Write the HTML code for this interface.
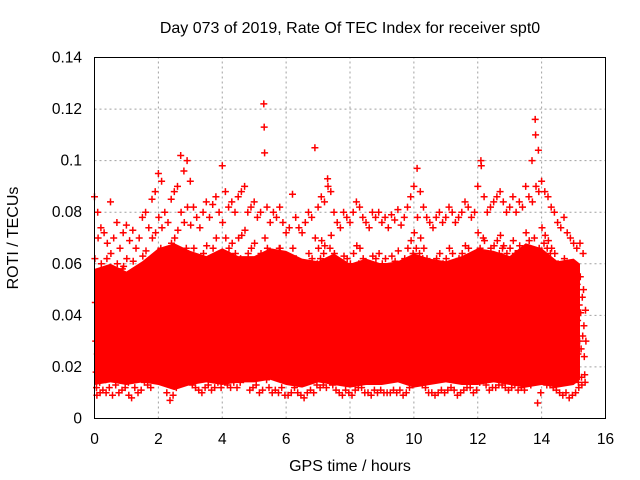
<!DOCTYPE html>
<html><head><meta charset="utf-8">
<style>
body{margin:0;background:#fff;}
svg{display:block;font-family:"Liberation Sans",sans-serif;}
</style></head>
<body>
<svg id="chart" width="640" height="480">
<text x="350" y="33" font-size="16" text-anchor="middle" fill="#000">Day 073 of 2019, Rate Of TEC Index for receiver spt0</text>
<text x="350" y="471" font-size="16" text-anchor="middle" fill="#000">GPS time / hours</text>
<text transform="translate(18,238) rotate(-90)" font-size="16" text-anchor="middle" fill="#000">ROTI / TECUs</text>
<g id="grid"></g>
<g id="ticks"></g>
<g id="points"></g>
<rect x="94.5" y="57.5" width="511" height="361" fill="none" stroke="#000" stroke-width="1"/>
</svg>
<script>
const xTicks=[0,2,4,6,8,10,12,14,16];
const yTicks=[0,0.02,0.04,0.06,0.08,0.1,0.12,0.14];
const yTickLabels=["0","0.02","0.04","0.06","0.08","0.1","0.12","0.14"];
const binStart=0, binStep=0.1;
// dense-cloud envelope (thousandths), every 0.5 h
const bandTimes=[0,0.5,1,1.5,2,2.5,3,3.5,4,4.5,5,5.5,6,6.5,7,7.5,8,8.5,9,9.5,10,10.5,11,11.5,12,12.5,13,13.5,14,14.5,15,15.2];
const bandLow=[13,14,13,14,13,11,13,14,13,14,14,15,13,12,14,13,12,13,13,14,12,13,14,13,13,14,13,12,13,12,13,15];
const bandHigh=[58,60,57,61,66,68,65,63,66,63,63,66,65,62,61,64,60,62,60,61,64,62,61,63,66,65,63,68,66,61,62,60];
// ROTI values (thousandths of TECU/min) per 0.1 h bin
const rotiBins=[
[86,62,45,30,18,12,9,25],[80,70,52,38,22,14,10,33],[74,60,48,28,20,11,41,16],[72,55,40,25,15,10,35,62],
[68,58,43,31,19,12,27,50],[84,64,47,29,17,9,36,22],[70,57,44,30,21,13,52,26],[76,60,39,24,16,10,33,48],
[66,53,42,28,18,11,58,24],[72,59,45,32,20,12,38,15],[75,62,48,34,22,14,9,55],[69,54,41,27,16,8,44,30],
[73,61,46,31,19,12,36,52],[66,50,38,25,17,10,43,28],[70,58,44,29,20,11,55,33],[78,63,49,35,23,14,40,18],
[80,65,50,36,22,13,46,28],[74,59,45,31,19,12,56,37],[85,70,54,38,24,15,48,30],[88,72,56,40,26,16,62,34],
[95,78,60,44,28,17,66,38],[92,74,58,42,27,15,50,33],[80,64,48,34,20,10,42,58],[76,60,45,30,18,7,38,52],
[85,68,52,36,22,9,60,44],[88,70,55,40,25,12,48,30],[90,73,57,41,26,14,62,35],[102,80,62,45,28,16,55,38],
[96,76,59,42,27,15,66,34],[100,82,64,46,30,18,58,40],[92,75,57,40,25,13,50,32],[82,66,50,35,21,12,45,60],
[78,62,48,33,20,11,55,40],[74,58,44,30,18,10,38,52],[80,64,49,34,21,12,58,27],[84,67,52,36,22,13,44,62],
[78,62,47,32,19,11,55,38],[83,66,51,35,22,12,60,42],[86,70,54,38,24,14,48,30],[80,64,48,33,20,12,58,42],
[98,76,58,42,26,15,50,34],[88,70,54,38,24,13,62,44],[82,66,50,35,22,12,56,40],[84,68,52,36,23,14,46,60],
[80,64,49,34,21,12,58,38],[86,70,54,38,24,14,62,44],[88,71,55,39,25,15,50,33],[90,73,56,40,26,16,60,42],
[80,64,48,33,20,11,55,38],[82,66,50,35,22,12,58,44],[84,68,52,36,23,13,60,40],[78,62,47,32,20,10,52,36],
[80,64,49,34,21,11,56,42],[122,113,103,70,45,25,58,15],[82,66,50,35,22,12,60,40],[76,60,46,31,19,10,54,36],
[80,64,48,33,20,11,56,40],[78,62,47,32,19,10,52,66],[82,66,50,35,22,12,58,42],[76,60,45,30,18,9,54,38],
[72,58,44,29,17,9,50,34],[74,59,45,30,18,10,52,36],[87,66,50,34,21,12,58,40],[78,62,47,32,19,10,55,38],
[74,58,44,29,17,9,52,36],[72,57,43,28,16,8,50,34],[76,60,46,31,18,10,54,38],[80,64,48,33,20,11,58,42],
[78,62,47,32,19,10,56,40],[105,70,54,37,23,13,60,44],[82,66,50,35,22,12,62,46],[86,69,53,37,23,13,64,48],
[84,67,51,36,22,12,60,44],[93,90,56,40,25,14,66,48],[88,71,55,39,24,13,62,46],[80,64,48,33,20,11,58,42],
[76,60,46,31,19,10,54,38],[74,58,44,29,17,9,52,36],[80,63,48,33,20,11,56,40],[78,62,47,32,19,10,55,38],
[76,60,45,30,18,9,53,37],[80,64,49,34,21,11,58,42],[84,67,51,35,22,12,60,44],[82,66,50,35,22,12,58,42],
[78,62,47,32,19,10,55,39],[76,60,46,31,18,10,53,37],[74,58,44,29,17,9,51,35],[80,63,48,33,20,11,57,41],
[78,62,47,32,19,10,55,39],[80,64,48,33,20,11,57,41],[76,60,46,31,19,10,54,38],[78,62,47,32,19,10,56,40],
[74,59,45,30,18,10,52,36],[79,63,48,33,20,11,57,41],[77,61,46,31,19,10,55,39],[81,65,49,34,21,11,59,43],
[75,60,45,30,18,9,53,37],[78,62,47,32,19,10,56,40],
[82,66,50,35,22,12,60,44],[86,69,53,37,23,13,64,48],[90,72,55,39,25,14,66,50],[97,78,58,42,27,15,64,46],
[88,70,54,38,24,13,62,46],[82,66,50,35,22,12,60,44],[78,62,47,32,19,10,56,40],[76,60,46,31,18,10,54,38],
[74,58,44,29,17,9,52,36],[78,62,47,32,19,10,56,40],[80,64,48,33,20,11,58,42],[76,60,46,31,19,10,54,38],
[78,62,47,32,20,11,56,40],[82,66,50,35,22,12,60,44],[80,64,48,33,20,11,58,42],[76,60,45,30,18,9,54,38],
[78,62,47,32,19,10,56,40],[80,64,49,34,21,11,58,42],[84,67,51,36,22,12,62,46],[82,66,50,35,22,12,60,44],
[78,62,47,32,19,10,56,40],[80,64,48,33,20,11,58,42],[90,72,55,39,25,14,66,48],[100,98,60,42,27,15,70,50],
[86,69,53,37,23,13,64,46],[80,64,48,33,20,11,58,42],[82,66,50,35,22,12,60,44],[84,67,51,36,22,12,62,46],
[86,69,53,37,23,13,64,48],[88,71,55,39,24,13,66,50],[84,67,51,36,22,12,62,46],[80,64,48,33,20,11,58,42],
[82,66,50,35,22,12,60,44],[86,69,53,37,23,13,64,48],[80,64,48,33,20,11,58,42],[84,67,51,36,22,12,62,46],
[82,65,50,35,21,11,60,44],[90,72,55,39,25,14,66,48],[86,69,53,37,23,13,64,46],[100,84,62,44,28,16,70,50],
[116,110,90,60,38,20,6,50],[104,88,66,46,30,18,10,56],[92,74,57,40,26,15,68,50],[88,71,55,39,24,13,66,48],
[86,69,53,37,23,13,64,46],[82,66,50,35,22,12,60,44],[80,64,48,33,20,11,58,42],[76,60,46,31,19,10,54,38],
[74,58,44,29,17,9,52,36],[78,62,47,32,19,10,56,40],[72,57,43,28,16,8,50,34],[70,56,42,27,16,9,48,33],
[68,54,40,26,15,10,46,32],[66,52,38,25,14,12,44,30],[68,55,41,27,16,13,47,32],[64,50,36,24,17,14,42,30]
];
const X0=94.5,X1=605.5,Y0=418.5,Y1=57.5;
const xs=v=>X0+(v-0)/(16-0)*(X1-X0);
const ys=v=>Y0-(v-0)/(0.14-0)*(Y0-Y1);
const NS="http://www.w3.org/2000/svg";
const grid=document.getElementById('grid'),ticks=document.getElementById('ticks'),pts=document.getElementById('points');
function mk(tag,attrs,parent){const e=document.createElementNS(NS,tag);for(const k in attrs)e.setAttribute(k,attrs[k]);parent.appendChild(e);return e;}
xTicks.forEach((t,i)=>{
  const x=xs(t);
  if(i>0&&i<xTicks.length-1){const g=mk('line',{x1:x,x2:x,y1:Y0,y2:Y1,stroke:'#a0a0a0','stroke-dasharray':'2,3'},grid);
  
  }
  const l=mk('text',{x:x,y:444,'font-size':15.5,'text-anchor':'middle'},ticks);l.textContent=String(t);
  
  
});
yTicks.forEach((t,i)=>{
  const y=ys(t);
  if(i>0&&i<yTicks.length-1){const g=mk('line',{x1:X0,x2:X1,y1:y,y2:y,stroke:'#a0a0a0','stroke-dasharray':'2,3'},grid);
  
  }
  const l=mk('text',{x:82,y:y+5,'font-size':15.5,'text-anchor':'end'},ticks);l.textContent=yTickLabels[i];
  
  
});
let bd='';
bandTimes.forEach((t,i)=>{bd+=(i?'L':'M')+xs(t).toFixed(1)+' '+ys(bandHigh[i]/1000).toFixed(1);});
for(let i=bandTimes.length-1;i>=0;i--){bd+='L'+xs(bandTimes[i]).toFixed(1)+' '+ys(bandLow[i]/1000).toFixed(1);}
bd+='Z';
const band=mk('path',{d:bd,fill:'#ff0000',stroke:'none'},pts);


let d='';
rotiBins.forEach((vals,b)=>{
  vals.forEach((v,j)=>{
    const t=binStart+b*binStep+j*binStep/8;
    const x=xs(t),y=ys(v/1000);
    d+=`M${(x-3.5).toFixed(1)} ${y.toFixed(1)}h7M${x.toFixed(1)} ${(y-3.5).toFixed(1)}v7`;
  });
});
const p=mk('path',{d:d,stroke:'#ff0000','stroke-width':1.5,fill:'none'},pts);


</script>
</body></html>
